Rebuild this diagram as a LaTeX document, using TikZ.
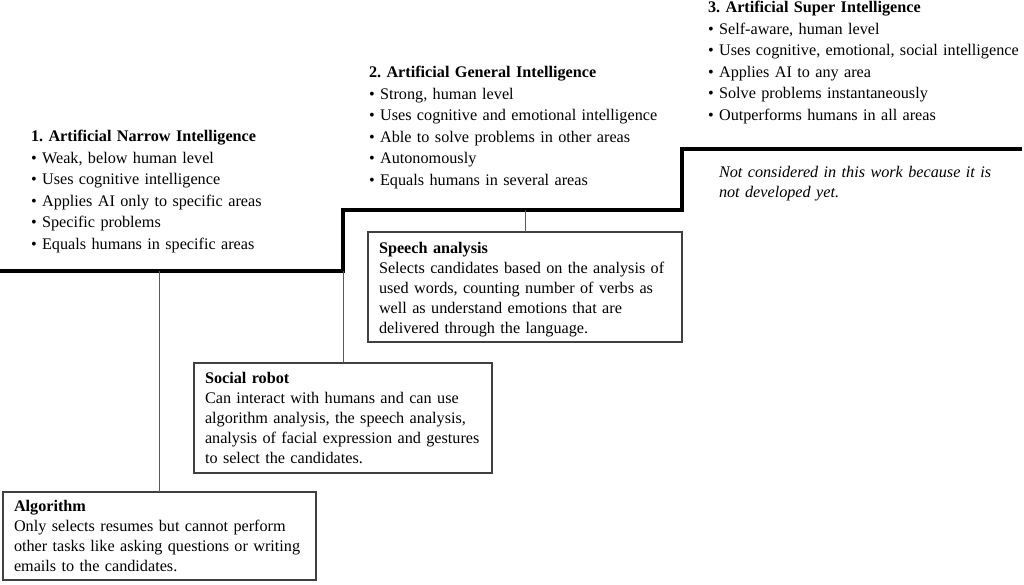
\documentclass[tikz,border=0pt]{standalone}
\usepackage{fontspec}
\setmainfont{Liberation Serif}
\frenchspacing
\begin{document}
\begin{tikzpicture}[x=1pt,y=-1pt,
  stair/.style={line width=3.2pt, black},
  conn/.style={line width=1pt, black!65},
  listtxt/.style={anchor=base west, inner sep=0pt, outer sep=0pt, text width=340pt, align=left,
    font=\fontsize{16.2}{21.5}\selectfont},
  notetxt/.style={anchor=base west, inner sep=0pt, outer sep=0pt, text width=300pt, align=left,
    font=\fontsize{16.2}{20}\selectfont\itshape},
  boxnode/.style={draw=black!75, line width=1.3pt, anchor=north west, inner xsep=11pt, inner ysep=0pt,
    outer sep=0pt, align=left, font=\fontsize{16.2}{20}\selectfont}
]
\useasboundingbox (0,0) rectangle (1024,585);

% staircase
\coordinate (s0) at (0,271);
\coordinate (s1) at (343,271);
\coordinate (s2) at (343,210);
\coordinate (s3) at (682,210);
\coordinate (s4) at (682,149);
\coordinate (s5) at (1022,149);
\draw[stair] (s0) -- (s1) -- (s2) -- (s3) -- (s4) -- (s5);

% level texts
\node[listtxt] (ani) at (31,142) {\textbf{1. Artificial Narrow Intelligence}\\
• Weak, below human level\\
• Uses cognitive intelligence\\
• Applies AI only to specific areas\\
• Specific problems\\
• Equals humans in specific areas};

\node[listtxt] (agi) at (369,78) {\textbf{2. Artificial General Intelligence}\\
• Strong, human level\\
• Uses cognitive and emotional intelligence\\
• Able to solve problems in other areas\\
• Autonomously\\
• Equals humans in several areas};

\node[listtxt] (asi) at (708,13) {\textbf{3. Artificial Super Intelligence}\\
• Self-aware, human level\\
• Uses cognitive, emotional, social intelligence\\
• Applies AI to any area\\
• Solve problems instantaneously\\
• Outperforms humans in all areas};

\node[notetxt] (note) at (719,178) {Not considered in this work because it is\\
not developed yet.};

% boxes
\node[boxnode, text width=292pt, text height=21pt, text depth=89pt] (speech) at (368,232)
{\mbox{\textbf{Speech analysis}}\\
\mbox{Selects candidates based on the analysis of}\\
\mbox{used words, counting number of verbs as}\\
\mbox{well as understand emotions that are}\\
\mbox{delivered through the language.}};

\node[boxnode, text width=276pt, text height=20pt, text depth=90pt] (robot) at (194,363)
{\mbox{\textbf{Social robot}}\\
\mbox{Can interact with humans and can use}\\
\mbox{algorithm analysis, the speech analysis,}\\
\mbox{analysis of facial expression and gestures}\\
\mbox{to select the candidates.}};

\node[boxnode, text width=291pt, text height=19pt, text depth=69pt] (algo) at (3,492)
{\mbox{\textbf{Algorithm}}\\
\mbox{Only selects resumes but cannot perform}\\
\mbox{other tasks like asking questions or writing}\\
\mbox{emails to the candidates.}};

% connectors
\draw[conn] (algo.north) -- (algo.north |- s1);
\draw[conn] (robot.north) -- (robot.north |- s1);
\draw[conn] (speech.north) -- (speech.north |- s3);
\end{tikzpicture}
\end{document}
